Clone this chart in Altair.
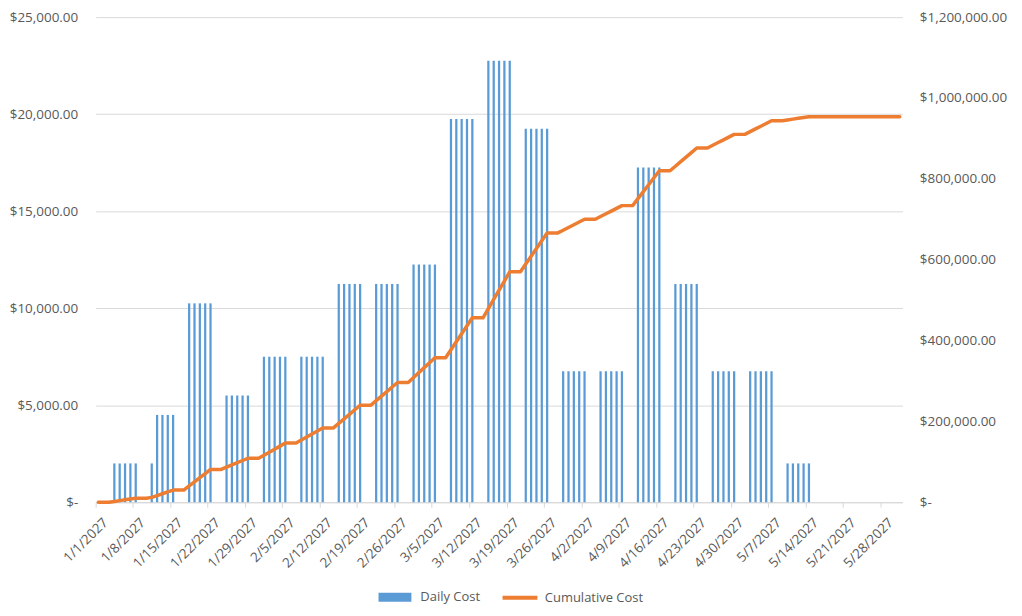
import altair as alt
import pandas as pd

# Monday of each working week and the cost of its five weekdays (Mon..Fri)
week_starts = [
    "2027-01-04", "2027-01-11", "2027-01-18", "2027-01-25", "2027-02-01",
    "2027-02-08", "2027-02-15", "2027-02-22", "2027-03-01", "2027-03-08",
    "2027-03-15", "2027-03-22", "2027-03-29", "2027-04-05", "2027-04-12",
    "2027-04-19", "2027-04-26", "2027-05-03", "2027-05-10",
]
weekday_costs = [
    [2000, 2000, 2000, 2000, 2000],
    [2000, 4500, 4500, 4500, 4500],
    [10250, 10250, 10250, 10250, 10250],
    [5500, 5500, 5500, 5500, 5500],
    [7500, 7500, 7500, 7500, 7500],
    [7500, 7500, 7500, 7500, 7500],
    [11250, 11250, 11250, 11250, 11250],
    [11250, 11250, 11250, 11250, 11250],
    [12250, 12250, 12250, 12250, 12250],
    [19750, 19750, 19750, 19750, 19750],
    [22750, 22750, 22750, 22750, 22750],
    [19250, 19250, 19250, 19250, 19250],
    [6750, 6750, 6750, 6750, 6750],
    [6750, 6750, 6750, 6750, 6750],
    [17250, 17250, 17250, 17250, 17250],
    [11250, 11250, 11250, 11250, 11250],
    [6750, 6750, 6750, 6750, 6750],
    [6750, 6750, 6750, 6750, 6750],
    [2000, 2000, 2000, 2000, 2000],
]
tick_labels = [
    "1/1/2027", "1/8/2027", "1/15/2027", "1/22/2027", "1/29/2027", "2/5/2027",
    "2/12/2027", "2/19/2027", "2/26/2027", "3/5/2027", "3/12/2027", "3/19/2027",
    "3/26/2027", "4/2/2027", "4/9/2027", "4/16/2027", "4/23/2027", "4/30/2027",
    "5/7/2027", "5/14/2027", "5/21/2027", "5/28/2027",
]
left_ticks = [0, 5000, 10000, 15000, 20000, 25000]
right_ticks = [0, 200000, 400000, 600000, 800000, 1000000, 1200000]
series_names = ["Daily Cost", "Cumulative Cost"]
series_colors = ["#5B9BD5", "#ED7D31"]

days = pd.date_range("2027-01-01", "2027-05-31", freq="D")
cost_by_day = {}
for ws, costs in zip(week_starts, weekday_costs):
    start = pd.Timestamp(ws)
    for i, c in enumerate(costs):
        cost_by_day[start + pd.Timedelta(days=i)] = c

df = pd.DataFrame({
    "idx": list(range(len(days))),
    "day": [f"{d.month}/{d.day}/{d.year}" for d in days],
    "cost": [cost_by_day.get(d, 0) for d in days],
})

GRAY_TXT = "#595959"
GRID = "#D9D9D9"
FONT = "Open Sans"
FS = 13.5

x_enc = alt.X(
    "day:O", sort=None, title=None,
    scale=alt.Scale(paddingInner=0, paddingOuter=0),
    axis=alt.Axis(
        values=tick_labels, bandPosition=0, labelAngle=-45,
        labelAlign="right", labelBaseline="middle",
        tickSize=5, tickColor=GRID, domainColor=GRID,
        labelPadding=13, labelOffset=7.5, grid=False,
    ),
)

money_expr = "datum.value == 0 ? '$-\u00a0\u00a0' : format(datum.value, '$,.2f')"
money_expr_r = "datum.value == 0 ? '$-' : format(datum.value, '$,.2f')"

bars = alt.Chart(df).transform_calculate(
    series="'Daily Cost'"
).mark_bar(width=alt.RelativeBandSize(0.42)).encode(
    x=x_enc,
    y=alt.Y(
        "cost:Q", title=None,
        scale=alt.Scale(domain=[0, 25000], nice=False),
        axis=alt.Axis(
            values=left_ticks, labelExpr=money_expr, grid=True, gridColor=GRID,
            domain=False, ticks=False, labelPadding=18, orient="left",
        ),
    ),
    color=alt.Color(
        "series:N",
        scale=alt.Scale(domain=[series_names[0]], range=[series_colors[0]]),
        legend=alt.Legend(
            title=None, orient="none", legendX=294, legendY=576,
            symbolType="M-3.3,-0.9H3.3V0.9H-3.3Z", symbolSize=100,
            symbolStrokeWidth=0, symbolOpacity=1, labelOffset=19,
            labelFont=FONT, labelFontSize=13, labelColor=GRAY_TXT, padding=0,
        ),
    ),
)

line = alt.Chart(df).transform_window(
    cum="sum(cost)", sort=[alt.SortField("idx")]
).transform_calculate(
    series="'Cumulative Cost'"
).mark_line(strokeWidth=3.5, strokeJoin="round", strokeCap="round").encode(
    x=x_enc,
    y=alt.Y(
        "cum:Q", title=None,
        scale=alt.Scale(domain=[0, 1200000], nice=False),
        axis=alt.Axis(
            values=right_ticks, labelExpr=money_expr_r, grid=False,
            domain=False, ticks=False, labelPadding=17, orient="right",
        ),
    ),
    stroke=alt.Stroke(
        "series:N",
        scale=alt.Scale(domain=[series_names[1]], range=[series_colors[1]]),
        legend=alt.Legend(
            title=None, orient="none", legendX=419, legendY=576,
            symbolType="M-3.5,0H3.5", symbolSize=100, symbolStrokeWidth=4,
            labelOffset=18, labelFont=FONT, labelFontSize=13,
            labelColor=GRAY_TXT, padding=0,
        ),
    ),
)

chart = alt.layer(bars, line).resolve_scale(
    y="independent", color="independent", stroke="independent"
).properties(
    width=810, height=487,
    padding={"left": 88, "top": 8, "right": 112, "bottom": 104},
    autosize=alt.AutoSizeParams(type="none"),
).configure_view(stroke=None).configure_axis(
    labelFont=FONT, labelFontSize=FS, labelColor=GRAY_TXT,
)

chart.save("out.html", embed_options={"renderer": "svg", "actions": False})
